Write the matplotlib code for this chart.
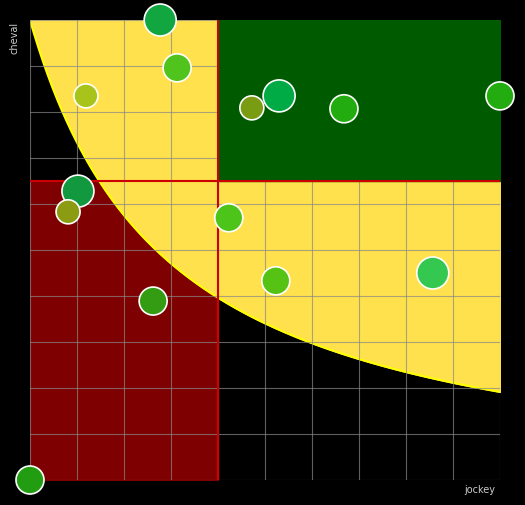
import matplotlib
matplotlib.use("Agg")
import matplotlib.pyplot as plt
import numpy as np

# bubble data (jockey, cheval, radius px, colour)
jockey = [2.77, 3.13, 1.19, 4.72, 5.30, 6.68, 10.0, 1.02, 0.81, 4.23, 5.23, 8.57, 2.62, 0.0]
cheval = [10.0, 8.96, 8.35, 8.09, 8.35, 8.07, 8.35, 6.28, 5.83, 5.70, 4.33, 4.50, 3.89, 0.0]
radius = [16, 14, 12, 12, 16, 14, 14, 16, 12, 14, 14, 16, 14, 14]
colors = ['#12a640', '#50c41c', '#a8c41a', '#7a9c12', '#00aa44', '#22ac10', '#22ac10',
          '#12983e', '#8c9c12', '#4cc41a', '#56c214', '#34c850', '#349c12', '#229c10']

# thresholds
x_cut = 4.0
y_cut = 6.5

fig = plt.figure(figsize=(5.25, 5.05), dpi=100, facecolor='black')
ax = fig.add_axes([30/525, 25/505, 470/525, 460/505])
ax.set_facecolor('black')
ax.set_xlim(0, 10)
ax.set_ylim(0, 10)

# red and green zones
ax.fill_between([0, x_cut], 0, y_cut, color='#7f0000', zorder=1)
# yellow zone above the curve
xc = np.linspace(0, 10, 400)
yc = 30.5 / (xc + 2.92) - 0.445
ax.fill_between(xc, yc, 10, color='#ffe14d', zorder=2)
ax.plot(xc, yc, color='yellow', lw=1.5, zorder=2)
ax.fill_between([x_cut, 10], y_cut, 10, color='#005a00', zorder=3)

ax.grid(True, color='#888888', lw=0.8, alpha=0.7, zorder=4)
ax.set_axisbelow(False)
ax.set_xticks(np.arange(0, 11, 1))
ax.set_yticks(np.arange(0, 11, 1))
ax.tick_params(length=0, labelbottom=False, labelleft=False)
for s in ax.spines.values():
    s.set_visible(False)

ax.axhline(y_cut, color='#cc0000', lw=1.5, zorder=5)
ax.plot([x_cut, x_cut], [0, 10], color='#cc0000', lw=1.5, zorder=5)

sizes = [(2 * r * 0.72) ** 2 for r in radius]
ax.scatter(jockey, cheval, s=sizes, c=colors, edgecolors='white', linewidths=1.2,
           zorder=6, clip_on=False)

fig.text(495/525, 1 - 490/505, 'jockey', color='#cccccc', fontsize=7, ha='right', va='center')
fig.text(15/525, 1 - 38/505, 'cheval', color='#cccccc', fontsize=7, rotation=90,
         ha='center', va='center')

fig.savefig('out.png', dpi=100, facecolor='black')
